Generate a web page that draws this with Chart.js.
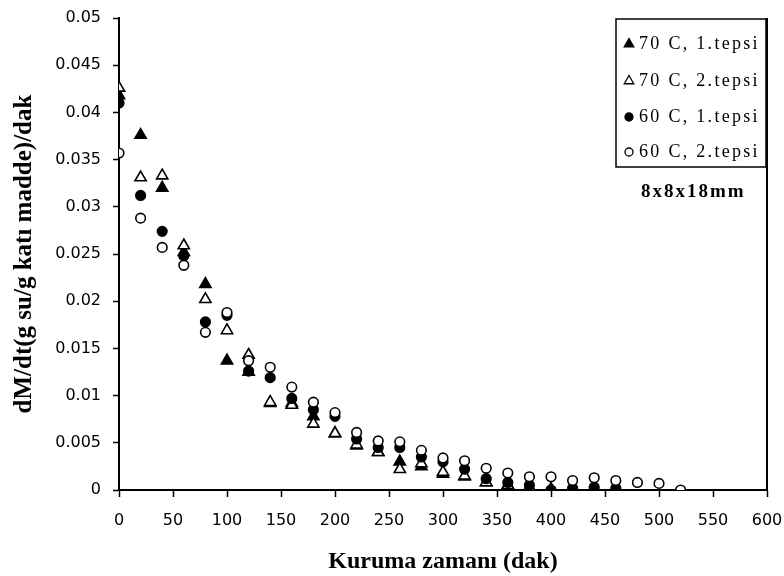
<!DOCTYPE html>
<html>
<head>
<meta charset="utf-8">
<script src="https://cdn.jsdelivr.net/npm/chart.js@4.4.0/dist/chart.umd.min.js"></script>
<style>
html,body{margin:0;padding:0;background:#fff;}
#wrap{width:784px;height:576px;position:relative;}
</style>
</head>
<body>
<div id="wrap"><canvas id="c" width="784" height="576"></canvas></div>
<script>
// Time (dak) for each observation, every 20 minutes
const times = [0,20,40,60,80,100,120,140,160,180,200,220,240,260,280,300,320,340,360,380,400,420,440,460,480,500,520];

const seriesLabels = ["70 C, 1.tepsi", "70 C, 2.tepsi", "60 C, 1.tepsi", "60 C, 2.tepsi"];

// dM/dt values
const t70c1 = [0.0418,0.0376,0.0320,0.0252,0.0218,0.0137,0.0125,0.0092,0.0092,0.0078,0.0060,0.0047,0.0040,0.0030,0.0025,0.0017,0.0014,0.0008,0.0005,0.0003,0.0000,0.0001,0.0000];
const t70c2 = [0.0426,0.0331,0.0333,0.0259,0.0202,0.0169,0.0143,0.0093,0.0090,0.0070,0.0060,0.0048,0.0040,0.0022,0.0028,0.0019,0.0015,0.0008,0.0005,0.0003,0.0001,0.0001,0.0000];
const t60c1 = [0.0410,0.0312,0.0274,0.0248,0.0178,0.0185,0.0126,0.0119,0.0097,0.0085,0.0078,0.0054,0.0045,0.0045,0.0035,0.0030,0.0022,0.0012,0.0008,0.0005,0.0000,0.0002,0.0003,0.0002];
const t60c2 = [0.0357,0.0288,0.0257,0.0238,0.0167,0.0188,0.0137,0.0130,0.0109,0.0093,0.0082,0.0061,0.0052,0.0051,0.0042,0.0034,0.0031,0.0023,0.0018,0.0014,0.0014,0.0010,0.0013,0.0010,0.0008,0.0007,0.0000];

const xTitle = "Kuruma zamanı (dak)";
const yTitle = "dM/dt(g su/g katı madde)/dak";
const noteText = "8x8x18mm";

function pts(vals){ return vals.map((v,i)=>({x: times[i], y: v})); }

const styles = [
  {pointStyle:'triangle', bg:'#000', r:6.5},
  {pointStyle:'triangle', bg:'#fff', r:6.5},
  {pointStyle:'circle', bg:'#000', r:4.8},
  {pointStyle:'circle', bg:'#fff', r:4.8}
];
const allVals = [t70c1, t70c2, t60c1, t60c2];
const drawOrder = [3,2,1,0];

const datasets = allVals.map((vals,i)=>({
  label: seriesLabels[i],
  data: pts(vals),
  pointStyle: styles[i].pointStyle,
  pointRadius: styles[i].r,
  pointHoverRadius: styles[i].r,
  pointBackgroundColor: styles[i].bg,
  pointBorderColor: '#000',
  pointBorderWidth: 1.6,
  showLine: false,
  order: drawOrder[i]
}));

const frame = {
  id: 'frame',
  afterDraw(chart){
    const ctx = chart.ctx, a = chart.chartArea;
    ctx.save();
    ctx.strokeStyle = '#000';
    ctx.lineWidth = 2;
    ctx.beginPath();
    ctx.moveTo(a.right, a.top);
    ctx.lineTo(a.right, a.bottom);
    ctx.stroke();
    // legend box
    const bx = 616, by = 19, bw = 150, bh = 148;
    ctx.fillStyle = '#fff';
    ctx.fillRect(bx, by, bw, bh);
    ctx.lineWidth = 1.5;
    ctx.strokeRect(bx, by, bw, bh);
    const rows = [44, 81, 117, 152];
    chart.data.datasets.forEach((ds, i) => {
      const y = rows[i];
      const s = styles[i];
      ctx.fillStyle = s.bg;
      ctx.strokeStyle = '#000';
      ctx.lineWidth = 1.3;
      Chart.helpers.drawPoint(ctx, {pointStyle: s.pointStyle, radius: s.pointStyle==='triangle'?5.5:4, borderWidth:1.3}, 629, y);
      ctx.fillStyle = '#000';
      ctx.font = '18px "Liberation Serif"';
      ctx.letterSpacing = '2.3px';
      ctx.textBaseline = 'middle';
      ctx.textAlign = 'left';
      ctx.fillText(ds.label, 639, y);
    });
    ctx.font = 'bold 19px "Liberation Serif"';
    ctx.letterSpacing = '2px';
    ctx.textAlign = 'left';
    ctx.fillText(noteText, 641, 192);
    ctx.restore();
  }
};

new Chart(document.getElementById('c'), {
  type: 'scatter',
  data: { datasets },
  plugins: [frame],
  options: {
    responsive: false,
    animation: false,
    devicePixelRatio: 1,
    layout: { padding: { left: 0, top: 18, right: 17, bottom: 0 } },
    plugins: { legend: { display: false }, tooltip: { enabled: false } },
    scales: {
      x: {
        type: 'linear', min: 0, max: 600,
        ticks: { stepSize: 50, color: '#000', font: { family: 'DejaVu Sans', size: 16 }, padding: 14, maxRotation: 0 },
        grid: { drawOnChartArea: false, tickLength: 7, tickColor: '#000', tickWidth: 1.5 },
        border: { color: '#000', width: 2 },
        title: { display: true, text: xTitle, color: '#000', font: { family: 'Liberation Serif', size: 24, weight: 'bold' }, padding: { top: 10, bottom: 0 } },
        afterFit(scale){ scale.height = 86; scale.paddingLeft = 0; scale.paddingRight = 0; }
      },
      y: {
        type: 'linear', min: 0, max: 0.05,
        ticks: { stepSize: 0.005, color: '#000', font: { family: 'DejaVu Sans', size: 16 }, padding: 12,
          callback: v => String(Math.round(v * 1000) / 1000) },
        grid: { drawOnChartArea: false, tickLength: 6, tickColor: '#000', tickWidth: 1.5 },
        border: { color: '#000', width: 2 },
        title: { display: true, text: yTitle, color: '#000', font: { family: 'Liberation Serif', size: 25, weight: 'bold' }, padding: { top: 10, bottom: 0 } },
        afterFit(scale){ scale.width = 119; scale.paddingTop = 0; scale.paddingBottom = 0; }
      }
    }
  }
});
</script>
</body>
</html>
